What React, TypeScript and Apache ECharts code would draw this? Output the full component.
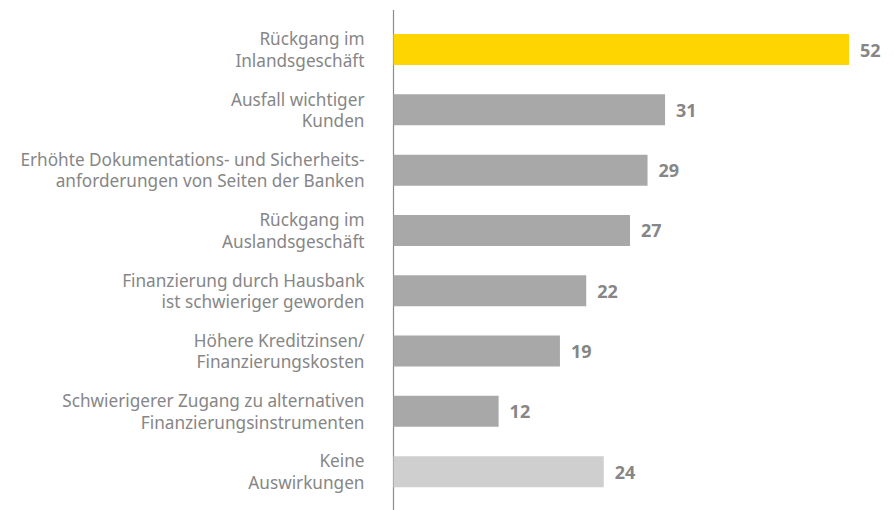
import React, { useEffect, useRef } from "react";
import * as echarts from "echarts";

const categories = [
  "Rückgang im\nInlandsgeschäft",
  "Ausfall wichtiger\nKunden",
  "Erhöhte Dokumentations- und Sicherheits-\nanforderungen von Seiten der Banken",
  "Rückgang im\nAuslandsgeschäft",
  "Finanzierung durch Hausbank\nist schwieriger geworden",
  "Höhere Kreditzinsen/\nFinanzierungskosten",
  "Schwierigerer Zugang zu alternativen\nFinanzierungsinstrumenten",
  "Keine\nAuswirkungen",
];
const values = [52, 31, 29, 27, 22, 19, 12, 24];
const barColors = ["#FFD500", "#A8A8A8", "#A8A8A8", "#A8A8A8", "#A8A8A8", "#A8A8A8", "#A8A8A8", "#CFCFCF"];

export default function App() {
  const ref = useRef<HTMLDivElement>(null);
  useEffect(() => {
    if (!ref.current) return;
    const chart = echarts.init(ref.current, null, { renderer: "svg" });
    const left = 393.5;
    const top = 19.4;
    const height = 482.4;
    chart.setOption({
      animation: false,
      grid: { left, top, height, width: 55 * 8.76 },
      xAxis: {
        type: "value",
        min: 0,
        max: 55,
        show: false,
      },
      yAxis: {
        type: "category",
        data: categories,
        inverse: true,
        axisLine: { show: false },
        axisTick: { show: false },
        axisLabel: {
          color: "#868686",
          fontFamily: "Noto Sans",
          fontSize: 17.2,
          lineHeight: 21.5,
          margin: 29,
          align: "right",
        },
      },
      series: [
        {
          type: "bar",
          data: values.map((v, i) => ({ value: v, itemStyle: { color: barColors[i] } })),
          barWidth: 31,
          label: {
            show: true,
            position: "right",
            distance: 11,
            color: "#868686",
            fontFamily: "Noto Sans",
            fontWeight: "bold",
            fontSize: 18,
          },
        },
      ],
      graphic: [
        {
          type: "line",
          shape: { x1: left, y1: 10, x2: left, y2: 510 },
          style: { stroke: "#8c8c8c", lineWidth: 1.2 },
        },
      ],
    });
    return () => chart.dispose();
  }, []);
  return (
    <div
      ref={ref}
      style={{ position: "fixed", left: 0, top: 0, width: 894, height: 510, background: "#fff" }}
    />
  );
}
